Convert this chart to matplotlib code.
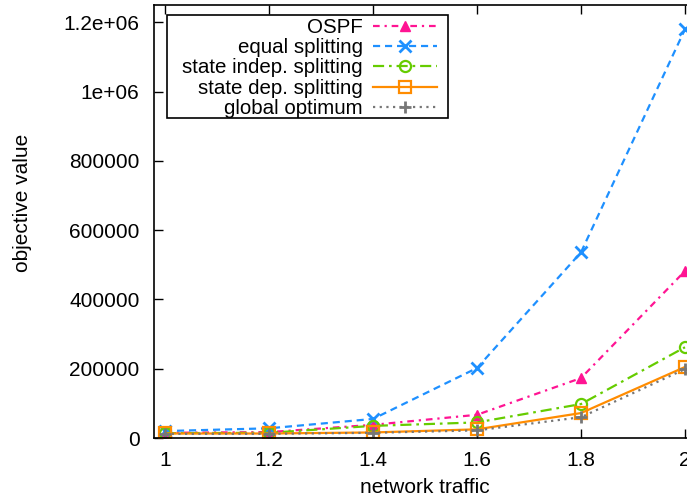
import matplotlib
matplotlib.use("Agg")
import matplotlib.pyplot as plt
from matplotlib.patches import Rectangle

plt.rcParams['font.family'] = ['Liberation Sans', 'DejaVu Sans']

# network traffic scaling factors
traffic = [1.0, 1.2, 1.4, 1.6, 1.8, 2.0]

# objective value per routing scheme
ospf = [15000, 17000, 38000, 67000, 173000, 482000]
equal_split = [20000, 28000, 55000, 202000, 536000, 1180000]
indep_split = [14000, 15000, 35000, 45000, 98000, 262000]
dep_split = [13000, 13000, 16000, 25000, 72000, 205000]
global_opt = [12000, 12000, 15000, 22000, 60000, 199000]

series_names = ["OSPF", "equal splitting", "state indep. splitting",
                "state dep. splitting", "global optimum"]

x_ticks = [1.0, 1.2, 1.4, 1.6, 1.8, 2.0]
x_tick_labels = ["1", "1.2", "1.4", "1.6", "1.8", "2"]
y_ticks = [0, 200000, 400000, 600000, 800000, 1000000, 1200000]
y_tick_labels = ["0", "200000", "400000", "600000", "800000", "1e+06", "1.2e+06"]

W, H = 687, 501
fig = plt.figure(figsize=(W / 100, H / 100), dpi=100)

left, right, bottom, top = 154, 696, 63, 496
ax = fig.add_axes([left / W, bottom / H, (right - left) / W, (top - bottom) / H])

fs = 15
lfs = 14.75
lw = 1.6

ax.plot(traffic, ospf, color="#ff1493", lw=lw, dashes=(3.0, 2.2, 1.0, 2.2),
        marker="^", ms=7, mfc="#ff1493", mec="#ff1493", label=series_names[0])
ax.plot(traffic, equal_split, color="#1e90ff", lw=lw, dashes=(3.2, 2.2),
        marker="x", ms=9, mew=2, label=series_names[1])
ax.plot(traffic, indep_split, color="#66cc00", lw=lw, dashes=(5.0, 2.2, 1.2, 2.2),
        marker="o", ms=8, mfc="none", mew=1.6, label=series_names[2])
ax.plot(traffic, dep_split, color="#ff8c00", lw=lw, ls="-",
        marker="s", ms=8, mfc="none", mew=1.6, label=series_names[3])
ax.plot(traffic, global_opt, color="#777777", lw=lw, dashes=(1.0, 2.0),
        marker="+", ms=9, mew=2, label=series_names[4])

ax.set_xlim(0.9788, 2.0212)
ax.set_ylim(0, 1250000)

ax.set_xticks(x_ticks)
ax.set_xticklabels(x_tick_labels)
ax.set_yticks(y_ticks)
ax.set_yticklabels(y_tick_labels)
ax.tick_params(direction="in", length=6.5, width=1, labelsize=fs,
               top=True, right=True)
ax.tick_params(axis="y", pad=10.5)
ax.tick_params(axis="x", pad=9)

for sp in ax.spines.values():
    sp.set_linewidth(1.2)

ax.set_xlabel("network traffic", fontsize=fs)
ax.xaxis.set_label_coords(0.5 * (left + right) / W, 1 - 478 / H,
                          transform=fig.transFigure)
ax.set_ylabel("objective value", fontsize=fs)
ax.yaxis.set_label_coords(32 / W, 1 - 203 / H, transform=fig.transFigure)

# key box
key_box = Rectangle((167 / W, 1 - 118 / H), (448 - 167) / W, (118 - 15) / H,
                    transform=fig.transFigure, facecolor="white",
                    edgecolor="black", lw=1.2, zorder=4, clip_on=False)
ax.add_patch(key_box)
leg = ax.legend(loc="upper right", bbox_to_anchor=(437 / W, 1 - 18 / H),
                bbox_transform=fig.transFigure, fontsize=lfs, markerfirst=False,
                frameon=False, handlelength=3.12, handletextpad=0.49,
                labelspacing=0.06, borderpad=0.0, borderaxespad=0)
leg.set_zorder(5)
for t in leg.get_texts():
    t.set_ha("right")
leg._legend_box.align = "right"

fig.savefig("out.png", dpi=100)
